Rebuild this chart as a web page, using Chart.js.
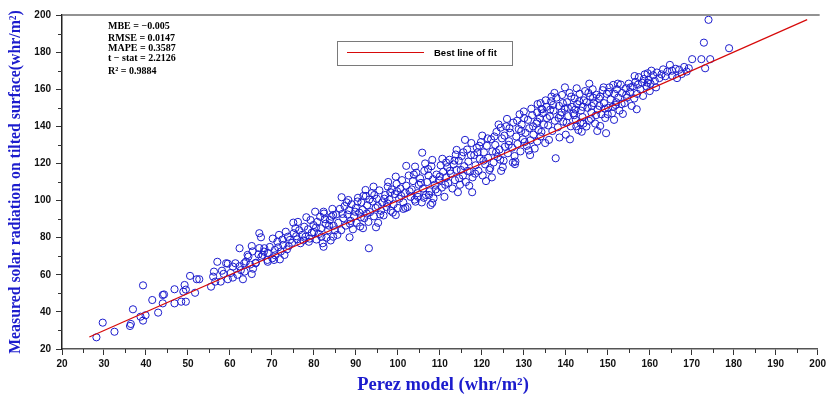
<!DOCTYPE html>
<html><head><meta charset="utf-8">
<script src="https://cdn.jsdelivr.net/npm/chart.js@4/dist/chart.umd.min.js"></script>
<style>html,body{margin:0;padding:0;background:#fff;}#wrap{width:829px;height:396px;position:relative;}</style>
</head><body><div id="wrap"><canvas id="c" width="829" height="396"></canvas></div>
<script>
// [Perez model, Measured] pairs, grouped by Perez model range
const obs25to58 = [[28.2,26.3],[29.7,34.2],[32.5,29.3],[36.2,32.4],[36.4,33.5],[36.9,41.4],[39.3,54.3],[38.7,37.4],[39.3,35.3],[39.9,38.2],[41.5,46.4],[42.9,39.6],[44.0,44.6],[44.0,49.1],[44.3,49.4],[46.8,52.2],[46.8,44.6],[48.4,45.5],[48.9,50.9],[49.2,54.5],[49.5,52.0],[49.5,45.5],[50.5,59.4],[51.7,50.3],[52.1,57.6],[52.7,57.6],[55.5,53.6],[56.2,61.7],[56.0,59.0],[56.5,56.3],[57.0,67.0],[58.1,62.2]];
const obs58to86 = [[57.8,56.3],[59.1,66.2],[59.5,66.0],[59.5,57.6],[60.7,64.4],[60.7,58.5],[61.3,66.2],[62.3,64.6],[62.6,62.5],[63.1,57.6],[63.4,66.2],[64.2,70.7],[65.2,60.4],[65.5,63.3],[66.1,66.2],[67.5,69.8],[68.1,72.5],[69.0,67.0],[70.5,68.0],[71.9,68.3],[73.0,70.7],[62.3,74.3],[63.5,61.7],[63.8,67.1],[64.4,69.8],[65.2,75.5],[65.4,72.6],[66.2,66.5],[67.0,82.4],[67.4,80.2],[67.0,74.4],[67.8,70.7],[68.2,74.3],[68.9,68.0],[69.0,71.8],[70.1,68.9],[70.7,73.4],[71.3,77.8],[71.7,81.5],[72.1,72.5],[72.7,76.1],[73.3,83.2],[73.6,73.7],[74.3,78.8],[75.1,88.1],[75.2,82.4],[75.6,85.1],[76.0,79.1],[76.8,77.0],[77.7,85.9],[78.0,80.5],[78.2,91.0],[78.8,77.8],[79.5,82.7],[79.9,86.8],[80.3,94.0],[80.6,79.0],[81.5,91.3],[81.7,85.0],[82.1,77.0],[82.4,93.0],[82.8,87.5],[83.4,84.0],[84.2,91.3],[84.6,80.5],[84.7,86.4],[58.5,60.5],[60.2,61.0],[61.8,60.0],[64.8,65.5],[66.8,71.0],[69.5,75.0],[70.2,79.5],[72.5,79.0],[74.0,75.5],[75.8,80.8],[76.5,84.0],[77.2,81.5],[78.6,84.5],[79.0,79.5],[80.0,83.0],[80.8,88.5],[81.2,82.0],[83.0,80.0],[83.8,89.5],[84.0,78.5],[85.0,84.0],[85.3,92.5],[82.3,75.1],[93.1,74.3]];
const obs86to111 = [[88.5,80.2],[94.8,85.6],[91.7,85.1],[99.5,92.2],[101.3,95.5],[104.2,99.4],[107.8,97.6],[105.8,125.8],[102.0,118.7],[104.1,118.3],[106.5,120.0],[99.5,112.9],[97.6,107.5],[94.2,107.5],[92.3,105.7],[86.6,101.8],[88.2,100.3],[84.6,92.2],[82.3,94.0],[85.8,88.0],[86.2,95.5],[86.5,84.0],[87.0,90.5],[87.3,97.0],[87.6,86.5],[88.0,92.5],[88.4,94.8],[88.8,89.0],[89.0,98.0],[89.3,84.5],[89.6,91.5],[90.0,96.0],[90.2,88.0],[90.5,101.5],[90.8,93.5],[91.0,86.0],[91.3,99.0],[91.6,95.0],[92.0,90.5],[92.4,102.5],[92.7,97.5],[93.0,88.5],[93.4,93.8],[93.8,104.0],[94.0,99.5],[94.3,91.5],[94.7,96.0],[95.0,101.0],[95.3,88.0],[95.6,105.5],[96.0,94.5],[96.3,99.0],[96.6,92.0],[97.0,103.0],[97.3,96.5],[97.7,110.0],[98.0,100.5],[98.3,94.5],[98.6,106.0],[99.0,98.0],[99.3,103.5],[99.7,109.0],[100.0,96.0],[100.3,101.0],[100.6,106.5],[101.0,111.0],[101.3,99.0],[101.6,104.0],[102.0,108.0],[102.3,96.5],[102.6,113.5],[103.0,102.0],[103.3,106.0],[103.6,110.5],[104.0,100.5],[104.4,115.0],[104.7,104.0],[105.0,108.5],[105.3,112.0],[105.7,99.0],[106.0,106.5],[106.3,116.0],[106.7,103.0],[107.0,110.0],[107.3,113.5],[107.6,105.0],[108.0,118.5],[108.2,121.9],[107.4,103.0],[108.5,101.2],[108.8,108.5],[109.2,114.0],[109.5,104.5],[109.8,111.0],[110.2,119.0],[110.5,107.0],[110.8,115.5],[111.1,102.0],[111.5,112.5],[108.2,98.7]];
const obs111to136 = [[117.7,104.5],[114.3,104.5],[124.6,116.0],[127.9,119.6],[116.0,132.7],[120.1,135.0],[124.5,139.3],[130.1,144.4],[114.0,127.3],[133.2,131.8],[134.2,149.4],[111.8,118.0],[112.0,109.5],[112.3,122.0],[112.6,114.5],[113.0,106.5],[113.3,119.5],[113.6,111.0],[114.0,116.5],[114.5,121.5],[114.8,108.5],[115.2,124.0],[115.5,113.5],[115.8,118.5],[116.2,110.0],[116.5,127.5],[116.8,121.0],[117.2,115.5],[117.5,131.0],[117.8,112.5],[118.2,124.5],[118.5,119.0],[118.8,128.5],[119.2,116.0],[119.5,122.5],[119.8,131.5],[120.2,113.5],[120.5,126.0],[120.8,119.5],[121.2,129.5],[121.5,123.0],[121.8,116.5],[122.2,133.0],[122.5,126.5],[122.8,120.5],[123.2,130.0],[123.5,137.0],[123.8,123.5],[124.2,127.5],[124.8,133.5],[125.2,121.5],[125.5,129.0],[125.8,140.0],[126.2,125.5],[126.5,132.0],[126.8,136.5],[127.2,128.5],[127.5,142.0],[127.8,124.0],[128.2,134.5],[128.5,130.5],[128.8,138.5],[129.2,126.5],[129.5,141.0],[129.8,133.0],[130.4,136.5],[130.7,129.5],[131.0,143.5],[131.3,139.0],[131.6,132.5],[132.0,146.0],[132.3,135.5],[132.6,128.0],[133.0,141.5],[133.5,138.0],[133.8,144.5],[134.0,134.5],[134.5,147.0],[134.8,141.0],[135.1,131.0],[135.4,150.5],[111.5,120.5],[113.8,124.8],[115.0,116.5],[117.0,108.0],[119.0,126.0],[121.0,110.5],[122.0,117.5],[123.0,134.5],[125.0,118.0],[126.0,144.0],[128.0,121.0],[130.0,148.0],[131.5,124.5],[133.3,152.0]];
const obs136to157 = [[137.6,122.8],[143.8,137.1],[149.6,136.3],[148.2,140.2],[144.9,139.9],[153.6,146.7],[156.9,149.2],[159.5,168.6],[156.4,167.1],[151.3,162.3],[139.1,156.9],[134.4,149.2],[133.2,142.5],[136.0,132.7],[135.8,140.5],[136.2,145.5],[136.5,153.5],[136.8,137.5],[137.1,148.5],[137.4,143.0],[137.8,155.5],[138.1,139.5],[138.4,151.0],[138.7,146.0],[139.4,142.5],[139.7,149.5],[140.0,135.5],[140.3,153.0],[140.6,145.5],[140.9,158.0],[141.2,140.0],[141.5,150.5],[141.8,147.0],[142.1,155.0],[142.4,143.5],[142.7,152.0],[143.0,138.0],[143.3,157.5],[143.6,148.5],[144.0,145.0],[144.3,154.0],[144.6,159.0],[145.2,150.0],[145.5,143.0],[145.8,156.0],[146.1,147.5],[146.4,160.0],[146.7,152.5],[147.0,141.5],[147.3,157.0],[147.6,149.0],[147.9,155.0],[148.5,146.5],[148.8,159.5],[149.1,152.5],[149.4,144.5],[149.8,157.5],[150.1,150.0],[150.4,161.0],[150.7,154.5],[151.0,147.0],[151.6,157.5],[151.9,151.5],[152.2,160.0],[152.5,155.5],[152.8,148.5],[153.1,162.5],[153.4,158.0],[154.0,152.5],[154.3,160.5],[154.6,155.5],[155.0,163.0],[155.3,158.5],[155.7,151.0],[156.0,161.5],[139.0,147.5],[140.5,150.0],[142.0,146.0],[143.5,142.0],[145.0,153.0],[146.0,144.0],[148.0,151.0],[150.0,146.5],[152.0,153.0],[141.0,133.0],[144.0,150.5],[146.5,155.5],[149.0,161.0],[137.0,151.5],[138.5,134.0],[135.5,144.5],[142.5,140.0],[147.5,137.5],[151.5,143.5]];
const obs157to180 = [[174.0,197.4],[172.9,185.1],[178.9,182.1],[170.1,176.2],[172.3,176.2],[174.4,176.2],[173.2,171.3],[169.3,171.3],[167.6,168.2],[165.4,167.2],[164.8,173.1],[165.3,170.0],[163.2,170.7],[162.3,166.0],[160.4,170.0],[158.4,156.4],[156.6,164.0],[157.0,157.5],[157.4,166.5],[157.8,160.0],[158.2,163.5],[158.8,168.0],[159.2,161.5],[159.8,165.0],[160.2,163.0],[160.8,167.5],[161.2,164.5],[161.7,169.0],[162.8,168.0],[163.7,167.0],[164.2,169.5],[166.2,171.0],[167.0,170.5],[168.2,172.0],[168.8,169.5],[166.5,166.0],[160.0,159.0],[161.5,161.0]];
const obsDenseBand = [[70.8,70.5],[71.5,74.8],[73.8,80.5],[74.8,77.2],[76.2,88.5],[77.5,78.5],[79.2,89.5],[80.5,85.5],[81.8,80.5],[82.6,90.0],[83.6,86.5],[84.4,95.5],[85.6,81.5],[86.8,92.8],[87.8,99.0],[88.6,87.5],[89.8,94.0],[90.4,99.5],[91.2,91.0],[91.8,102.5],[92.6,93.0],[93.2,100.5],[94.4,103.0],[95.2,97.0],[95.8,92.5],[96.8,101.0],[97.5,98.5],[98.2,104.5],[98.8,93.5],[99.8,105.0],[100.8,102.5],[101.8,96.0],[102.8,105.0],[103.8,114.0],[104.8,102.0],[105.5,109.5],[106.2,101.5],[107.2,117.0],[108.4,111.5],[109.0,106.0],[110.0,113.0],[110.6,122.5],[111.3,108.5],[112.4,116.0],[113.5,121.5],[114.6,112.0],[115.6,126.0],[116.6,116.0],[117.4,124.5],[118.4,114.5],[119.4,129.5],[120.4,121.5],[121.4,133.5],[122.4,112.5],[123.4,126.0],[124.4,122.0],[125.4,135.0],[126.4,130.0],[127.4,120.5],[128.4,143.0],[129.4,137.5],[130.2,131.5],[131.2,127.0],[132.2,140.0],[133.2,147.5],[134.2,137.0],[135.2,154.0],[136.3,149.0],[137.3,158.0],[138.3,144.5],[139.3,152.5],[140.2,142.0],[141.3,156.0],[142.3,149.0],[143.2,153.5],[144.2,141.5],[145.4,158.0],[146.2,151.0],[147.2,146.0],[148.2,156.0],[149.3,149.5],[150.3,158.5],[151.2,150.5],[152.4,163.0],[153.3,152.0],[154.4,157.0],[155.4,161.0],[156.3,155.0],[157.2,162.5],[158.6,165.5],[159.5,163.5],[145.6,163.0],[142.6,160.5],[139.8,161.0],[136.6,156.0],[134.0,152.5],[131.8,149.5],[129.0,146.5],[126.6,139.0],[124.0,141.0]];
const fitPerez = [26.5, 197.5];
const fitMeasured = [26.5, 197.5];
const statLines = ["MBE = \u22120.005", "RMSE = 0.0147", "MAPE = 0.3587", "t \u2212 stat = 2.2126", "R\u00b2 = 0.9884"];
const xTitle = "Perez model (whr/m\u00b2)";
const yTitle = "Measured solar radiation on tilted surface(whr/m\u00b2)";
const fitLabel = "Best line of fit";

const allObs = [].concat(obs25to58, obs58to86, obs86to111, obs111to136, obs136to157, obs157to180, obsDenseBand);
const BLUE = 'rgb(28,28,205)';
const RED = 'rgb(215,10,10)';

const decorPlugin = {
  id: 'decor',
  afterDraw(chart) {
    const ctx = chart.ctx, ca = chart.chartArea;
    const xs = chart.scales.x, ys = chart.scales.y;
    ctx.save();
    ctx.strokeStyle = '#6e6e6e'; ctx.lineWidth = 1.5;
    ctx.beginPath(); ctx.moveTo(ca.left, ca.top); ctx.lineTo(ca.right + 2, ca.top); ctx.stroke();
    ctx.strokeStyle = '#333'; ctx.lineWidth = 1;
    for (let v = 25; v < 200; v += 10) {
      const p = Math.round(xs.getPixelForValue(v)) + 0.5;
      ctx.beginPath(); ctx.moveTo(p, ca.bottom); ctx.lineTo(p, ca.bottom + 4); ctx.stroke();
    }
    for (let v = 30; v < 200; v += 20) {
      const p = Math.round(ys.getPixelForValue(v)) + 0.5;
      ctx.beginPath(); ctx.moveTo(ca.left, p); ctx.lineTo(ca.left - 4, p); ctx.stroke();
    }
    ctx.fillStyle = '#000'; ctx.font = 'bold 10px "Liberation Serif"'; ctx.textBaseline = 'middle'; ctx.textAlign = 'left';
    const ys2 = [26, 38, 48, 58, 71];
    statLines.forEach((t, i) => ctx.fillText(t, 108, ys2[i]));
    ctx.strokeStyle = '#7a7a7a'; ctx.lineWidth = 1;
    ctx.strokeRect(337.5, 41.5, 175, 24);
    ctx.strokeStyle = RED; ctx.lineWidth = 1;
    ctx.beginPath(); ctx.moveTo(347, 52.5); ctx.lineTo(424, 52.5); ctx.stroke();
    ctx.fillStyle = '#000'; ctx.font = 'bold 9.5px "Liberation Sans"';
    ctx.fillText(fitLabel, 434, 53);
    ctx.fillStyle = BLUE;
    ctx.font = 'bold 15.8px "Liberation Serif"'; ctx.textAlign = 'center';
    ctx.save(); ctx.translate(16, 182); ctx.rotate(-Math.PI / 2); ctx.fillText(yTitle, 0, 0); ctx.restore();
    ctx.font = 'bold 18.5px "Liberation Serif"';
    ctx.fillText(xTitle, 443, 385);
    ctx.restore();
  }
};

new Chart(document.getElementById('c'), {
  type: 'scatter',
  data: {
    datasets: [
      {
        label: 'Measured',
        data: allObs.map(p => ({x: p[0], y: p[1]})),
        pointStyle: 'circle', pointRadius: 3.6, pointBorderWidth: 1,
        pointBorderColor: BLUE, pointBackgroundColor: 'rgba(0,0,0,0)',
        order: 2
      },
      {
        type: 'line', label: fitLabel,
        data: fitPerez.map((x, i) => ({x: x, y: fitMeasured[i]})),
        borderColor: RED, borderWidth: 1.2, pointRadius: 0, fill: false,
        order: 1
      }
    ]
  },
  options: {
    responsive: false, animation: false, devicePixelRatio: 1,
    layout: {padding: {top: 15, right: 2, left: 0, bottom: 0}},
    plugins: {legend: {display: false}, tooltip: {enabled: false}},
    scales: {
      x: {
        type: 'linear', min: 20, max: 200,
        afterBuildTicks(s) { s.ticks = []; for (let v = 20; v <= 200; v += 10) s.ticks.push({value: v}); },
        afterFit(s) { s.height = 47; },
        ticks: {font: {family: '"Liberation Sans"', size: 10, weight: 'bold'}, color: '#111', padding: 3, maxRotation: 0, autoSkip: false},
        grid: {drawOnChartArea: false, tickLength: 6, color: '#333'},
        border: {color: '#555', width: 1.5}
      },
      y: {
        type: 'linear', min: 20, max: 200,
        afterBuildTicks(s) { s.ticks = []; for (let v = 20; v <= 200; v += 20) s.ticks.push({value: v}); },
        afterFit(s) { s.width = 62; },
        ticks: {font: {family: '"Liberation Sans"', size: 10, weight: 'bold'}, color: '#111', padding: 5, autoSkip: false},
        grid: {drawOnChartArea: false, tickLength: 6, color: '#333'},
        border: {color: '#222', width: 1.5}
      }
    }
  },
  plugins: [decorPlugin]
});
</script>
</body></html>
